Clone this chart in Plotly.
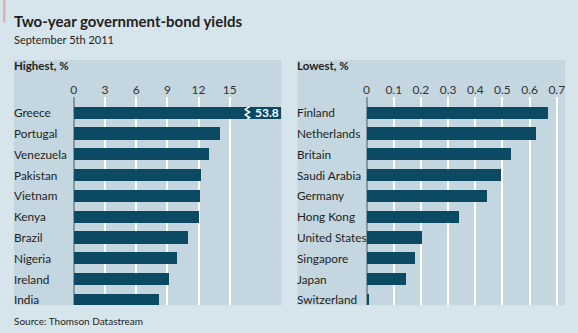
import plotly.graph_objects as go

W, H = 578, 333

# ---- data ----
high_countries = ["Greece", "Portugal", "Venezuela", "Pakistan", "Vietnam",
                  "Kenya", "Brazil", "Nigeria", "Ireland", "India"]
high_values = [53.8, 14.07, 12.98, 12.25, 12.15, 12.03, 10.94, 9.94, 9.15, 8.22]
high_ticks = [0, 3, 6, 9, 12, 15]

low_countries = ["Finland", "Netherlands", "Britain", "Saudi Arabia", "Germany",
                 "Hong Kong", "United States", "Singapore", "Japan", "Switzerland"]
low_values = [0.666, 0.623, 0.530, 0.493, 0.442, 0.339, 0.204, 0.175, 0.142, 0.006]
low_ticks = [0, 0.1, 0.2, 0.3, 0.4, 0.5, 0.6, 0.7]

title = "Two-year government-bond yields"
subtitle = "September 5th 2011"
source = "Source: Thomson Datastream"

# ---- style ----
FONT = "Lato"
BG = "#d6e4eb"
PANEL = "#c4d6e0"
BAR = "#0c4a63"
TXT = "#231f20"
SH = -3  # compensate annotation padding

def px(x):
    return x / W

def py(y):
    return 1 - y / H

y_dom = [py(305), py(97)]
y_range = [9.245, -0.755]
left_max = 19.94
right_max = 0.7305

fig = go.Figure()
fig.add_trace(go.Bar(x=high_values, y=high_countries, orientation="h",
                     marker=dict(color=BAR, line=dict(width=0)), width=0.58,
                     xaxis="x", yaxis="y", showlegend=False, hoverinfo="x+y"))
fig.add_trace(go.Bar(x=low_values, y=low_countries, orientation="h",
                     marker=dict(color=BAR, line=dict(width=0)), width=0.58,
                     xaxis="x2", yaxis="y2", showlegend=False, hoverinfo="x+y"))

axis_common = dict(side="top", showgrid=True, gridcolor="white", gridwidth=1.6,
                   zeroline=True, zerolinecolor="#8797a0", zerolinewidth=1.5,
                   showline=False, ticks="", fixedrange=True,
                   tickfont=dict(family=FONT, size=12, color="#333333"))
ycommon = dict(showgrid=False, zeroline=False, showticklabels=False, ticks="",
               range=y_range, domain=y_dom, fixedrange=True)

fig.update_layout(
    width=W, height=H, margin=dict(l=0, r=0, t=0, b=0),
    paper_bgcolor=BG, plot_bgcolor="rgba(0,0,0,0)",
    bargap=0,
    xaxis=dict(domain=[px(71.2), px(279.5)], range=[0, left_max],
               tickvals=high_ticks, anchor="y", **axis_common),
    yaxis=dict(anchor="x", categoryorder="array", categoryarray=high_countries, **ycommon),
    xaxis2=dict(domain=[px(365.5), px(565)], range=[0, right_max],
                tickvals=low_ticks, anchor="y2", **axis_common),
    yaxis2=dict(anchor="x2", categoryorder="array", categoryarray=low_countries, **ycommon),
)

shapes = [
    dict(type="rect", xref="paper", yref="paper", x0=px(11), x1=px(280),
         y0=py(305), y1=py(60), fillcolor=PANEL, line=dict(width=0), layer="below"),
    dict(type="rect", xref="paper", yref="paper", x0=px(296), x1=px(565),
         y0=py(305), y1=py(60), fillcolor=PANEL, line=dict(width=0), layer="below"),
    dict(type="rect", xref="paper", yref="paper", x0=0, x1=px(2.5),
         y0=py(22), y1=1, fillcolor="#e4aeb0", line=dict(width=0)),
]

# axis-break marker on the Greece bar
bx = left_max * 0.84
hh = 0.29
zig = [(bx + 0.15, -hh), (bx - 0.25, -hh * 0.55), (bx + 0.15, -hh * 0.1),
       (bx - 0.25, hh * 0.35), (bx + 0.15, hh * 0.8), (bx - 0.05, hh)]
path = "M " + " L ".join(f"{x},{y}" for x, y in zig)
shapes.append(dict(type="path", xref="x", yref="y", path=path,
                   line=dict(color="white", width=1.6)))
fig.update_layout(shapes=shapes)

ann = []
def left_text(text, x, y, size, yref="paper"):
    ann.append(dict(text=text, x=px(x), y=y, xref="paper", yref=yref,
                    xanchor="left", yanchor="middle", showarrow=False, xshift=SH,
                    font=dict(family=FONT, size=size, color=TXT)))

left_text("<b>" + title + "</b>", 12, py(20.5), 15)
left_text(subtitle, 12, py(39.5), 11)
left_text(source, 12, py(320.5), 10)
left_text("<b>Highest, %</b>", 12, py(66), 11.5)
left_text("<b>Lowest, %</b>", 297, py(66), 11.5)
for c in high_countries:
    left_text(c, 12, c, 11.8, yref="y")
for c in low_countries:
    left_text(c, 297, c, 11.8, yref="y2")
# value label for the clipped Greece bar
ann.append(dict(text=f"<b>{high_values[0]}</b>", x=left_max, y=high_countries[0],
                xref="x", yref="y", xanchor="right", yanchor="middle", xshift=0,
                showarrow=False, font=dict(family=FONT, size=12, color="white")))
fig.update_layout(annotations=ann)

fig.write_html("out.html")
